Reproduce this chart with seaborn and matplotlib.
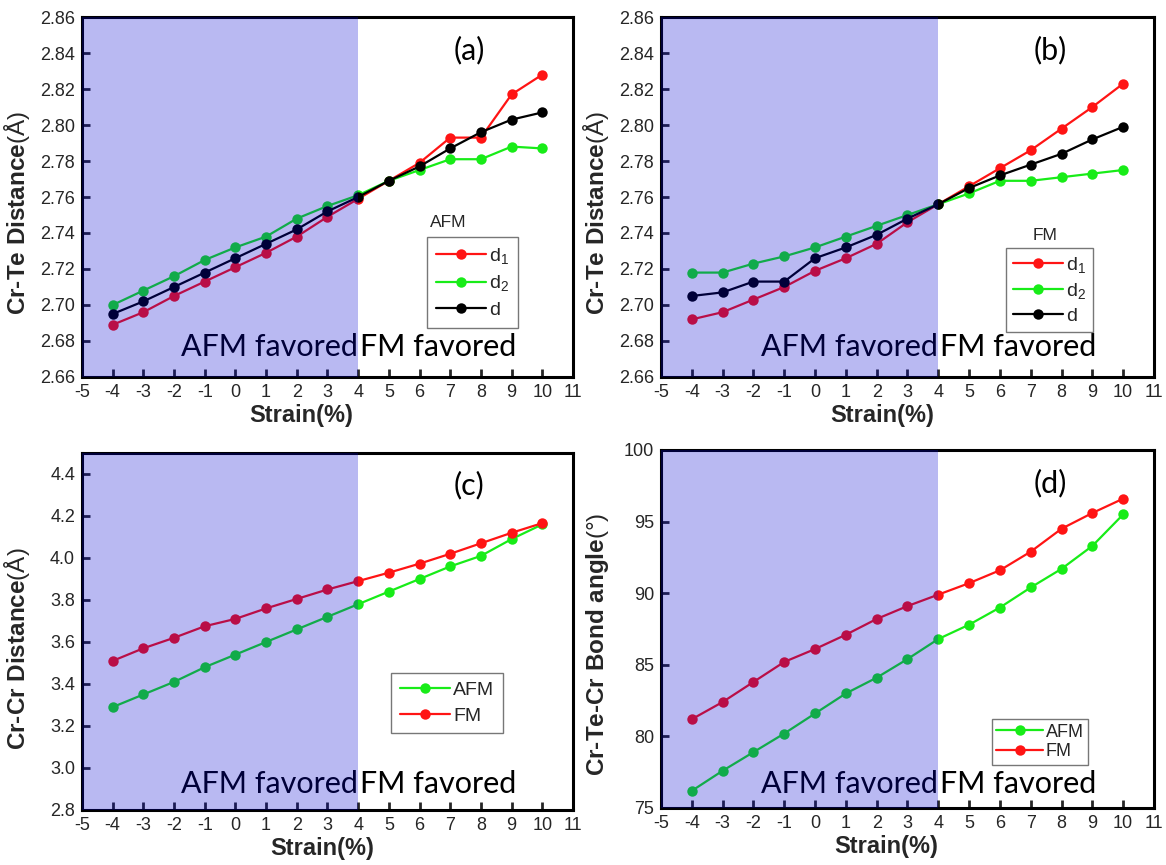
import numpy as np
import pandas as pd
import matplotlib
matplotlib.use("Agg")
import matplotlib.pyplot as plt
import seaborn as sns

# strain values (%)
strain = [-4, -3, -2, -1, 0, 1, 2, 3, 4, 5, 6, 7, 8, 9, 10]

# (a) Cr-Te distances, AFM state
afm_d1 = [2.689, 2.696, 2.705, 2.713, 2.721, 2.729, 2.738, 2.749, 2.759, 2.769, 2.779, 2.793, 2.793, 2.817, 2.828]
afm_d2 = [2.700, 2.708, 2.716, 2.725, 2.732, 2.738, 2.748, 2.755, 2.761, 2.769, 2.775, 2.781, 2.781, 2.788, 2.787]
afm_d = [2.695, 2.702, 2.710, 2.718, 2.726, 2.734, 2.742, 2.752, 2.760, 2.769, 2.777, 2.787, 2.796, 2.803, 2.807]

# (b) Cr-Te distances, FM state
fm_d1 = [2.692, 2.696, 2.703, 2.710, 2.719, 2.726, 2.734, 2.746, 2.756, 2.766, 2.776, 2.786, 2.798, 2.810, 2.823]
fm_d2 = [2.718, 2.718, 2.723, 2.727, 2.732, 2.738, 2.744, 2.750, 2.756, 2.762, 2.769, 2.769, 2.771, 2.773, 2.775]
fm_d = [2.705, 2.707, 2.713, 2.713, 2.726, 2.732, 2.739, 2.748, 2.756, 2.765, 2.772, 2.778, 2.784, 2.792, 2.799]

# (c) Cr-Cr distances
crcr_afm = [3.29, 3.35, 3.41, 3.48, 3.54, 3.60, 3.66, 3.72, 3.78, 3.84, 3.90, 3.96, 4.01, 4.09, 4.16]
crcr_fm = [3.51, 3.57, 3.62, 3.675, 3.71, 3.76, 3.805, 3.85, 3.89, 3.93, 3.973, 4.02, 4.07, 4.12, 4.166]

# (d) Cr-Te-Cr bond angles
ang_afm = [76.2, 77.6, 78.9, 80.2, 81.6, 83.0, 84.1, 85.4, 86.8, 87.8, 89.0, 90.4, 91.7, 93.3, 95.5]
ang_fm = [81.2, 82.4, 83.8, 85.2, 86.1, 87.1, 88.2, 89.1, 89.9, 90.7, 91.6, 92.9, 94.5, 95.6, 96.6]

x_ticks = list(range(-5, 12))

RED = "#ff1414"
GREEN = "#18ec18"
BLACK = "#000000"

sns.set_style("ticks")
plt.rcParams["font.family"] = ["Liberation Sans", "DejaVu Sans"]
plt.rcParams["mathtext.fontset"] = "custom"
plt.rcParams["mathtext.rm"] = "Liberation Sans"
plt.rcParams["mathtext.it"] = "Liberation Sans"
plt.rcParams["axes.unicode_minus"] = False

fig = plt.figure(figsize=(11.66, 8.65), dpi=100)

boxes = {
    "a": [0.0703, 0.5642, 0.4211, 0.4161],
    "b": [0.5669, 0.5642, 0.4228, 0.4161],
    "c": [0.0703, 0.0636, 0.4211, 0.4127],
    "d": [0.5669, 0.0659, 0.4228, 0.4139],
}

ANNOT_FONT = ["Lato", "Open Sans", "DejaVu Sans"]


def long_frame(series):
    rows = []
    for name, vals in series:
        for s, v in zip(strain, vals):
            rows.append({"strain": s, "value": v, "series": name})
    return pd.DataFrame(rows)


def draw_panel(ax, series, palette, ylim, yticks, yfmt, ylabel, tag,
               text_y, tag_y, leg_anchor, xlab_xy, ylab_xy,
               leg_title=None, title_xy=None, leg_kw=None):
    df = long_frame(series)
    sns.lineplot(data=df, x="strain", y="value", hue="series", palette=palette,
                 marker="o", markersize=7.5, markeredgewidth=0, linewidth=1.6,
                 ax=ax, legend=False, zorder=2)
    ax.set_xlim(-5, 11)
    ax.set_ylim(*ylim)
    ax.set_xticks(x_ticks)
    ax.set_yticks(yticks)
    ax.set_yticklabels([yfmt.format(v) for v in yticks])
    ax.tick_params(axis="both", direction="in", length=6, width=2,
                   labelsize=13, top=False, right=False, pad=5)
    for sp in ax.spines.values():
        sp.set_linewidth(2.2)
        sp.set_color("black")
    ax.set_xlabel("Strain(%)", fontsize=17, fontweight="bold")
    ax.xaxis.set_label_coords(*xlab_xy)
    ax.set_ylabel(ylabel, fontsize=17.5, fontweight="bold")
    ax.yaxis.set_label_coords(*ylab_xy)

    # shaded AFM-favoured region, laid over the data
    ax.axvspan(-5, 4, color="#0000d0", alpha=0.275, lw=0, zorder=4)

    ax.text(4, text_y, "AFM favored", ha="right", va="center", fontsize=22,
            family=ANNOT_FONT, color="black", zorder=3)
    ax.text(4.05, text_y, "FM favored", ha="left", va="center", fontsize=22,
            family=ANNOT_FONT, color="black", zorder=3)
    ax.text(7.62, tag_y, f"({tag})", ha="center", va="center", fontsize=22,
            family=ANNOT_FONT, color="black", zorder=3)

    handles = [plt.Line2D([], [], color=palette[name], marker="o", markersize=7.5,
                          markeredgewidth=0, linewidth=1.6)
               for name, _ in series]
    labels = [name for name, _ in series]
    opts = dict(fontsize=14, handlelength=2.6, handletextpad=0.15,
                borderpad=0.45, labelspacing=0.4)
    if leg_kw:
        opts.update(leg_kw)
    leg = ax.legend(handles, labels, loc="upper left", bbox_to_anchor=leg_anchor,
                    frameon=True, fancybox=False, borderaxespad=0, **opts)
    leg.get_frame().set_edgecolor("#555555")
    leg.get_frame().set_linewidth(1.0)
    leg.set_zorder(6)
    if leg_title is not None:
        ax.text(title_xy[0], title_xy[1], leg_title, transform=ax.transAxes,
                ha="center", va="center", fontsize=12.5, zorder=6)


yt_ab = [2.66, 2.68, 2.70, 2.72, 2.74, 2.76, 2.78, 2.80, 2.82, 2.84, 2.86]
label_cr_te = "Cr-Te Distance" + r"$\mathrm{(Å)}$"
label_cr_cr = "Cr-Cr Distance" + r"$\mathrm{(Å)}$"
label_angle = "Cr-Te-Cr Bond angle" + r"$\mathrm{(°)}$"

ax_a = fig.add_axes(boxes["a"])
draw_panel(ax_a,
           [("d$_1$", afm_d1), ("d$_2$", afm_d2), ("d", afm_d)],
           {"d$_1$": RED, "d$_2$": GREEN, "d": BLACK},
           (2.66, 2.86), yt_ab, "{:.2f}", label_cr_te, "a",
           2.6765, 2.8417, (0.703, 0.389), (0.446, -0.075), (-0.102, 0.455),
           "AFM", (0.745, 0.43))

ax_b = fig.add_axes(boxes["b"])
draw_panel(ax_b,
           [("d$_1$", fm_d1), ("d$_2$", fm_d2), ("d", fm_d)],
           {"d$_1$": RED, "d$_2$": GREEN, "d": BLACK},
           (2.66, 2.86), yt_ab, "{:.2f}", label_cr_te, "b",
           2.6765, 2.8417, (0.70, 0.358), (0.449, -0.075), (-0.102, 0.455),
           "FM", (0.78, 0.392), leg_kw=dict(borderpad=0.35, labelspacing=0.32))

ax_c = fig.add_axes(boxes["c"])
draw_panel(ax_c,
           [("AFM", crcr_afm), ("FM", crcr_fm)],
           {"AFM": GREEN, "FM": RED},
           (2.8, 4.5), [2.8, 3.0, 3.2, 3.4, 3.6, 3.8, 4.0, 4.2, 4.4], "{:.1f}",
           label_cr_cr, "c",
           2.925, 4.348, (0.629, 0.384), (0.489, -0.076), (-0.102, 0.452))

ax_d = fig.add_axes(boxes["d"])
draw_panel(ax_d,
           [("AFM", ang_afm), ("FM", ang_fm)],
           {"AFM": GREEN, "FM": RED},
           (75, 100), [75, 80, 85, 90, 95, 100], "{:.0f}",
           label_angle, "d",
           76.7, 97.7, (0.671, 0.248), (0.456, -0.076), (-0.102, 0.456),
           leg_kw=dict(fontsize=13, borderpad=0.25, labelspacing=0.15))

fig.savefig("out.png", dpi=100)
